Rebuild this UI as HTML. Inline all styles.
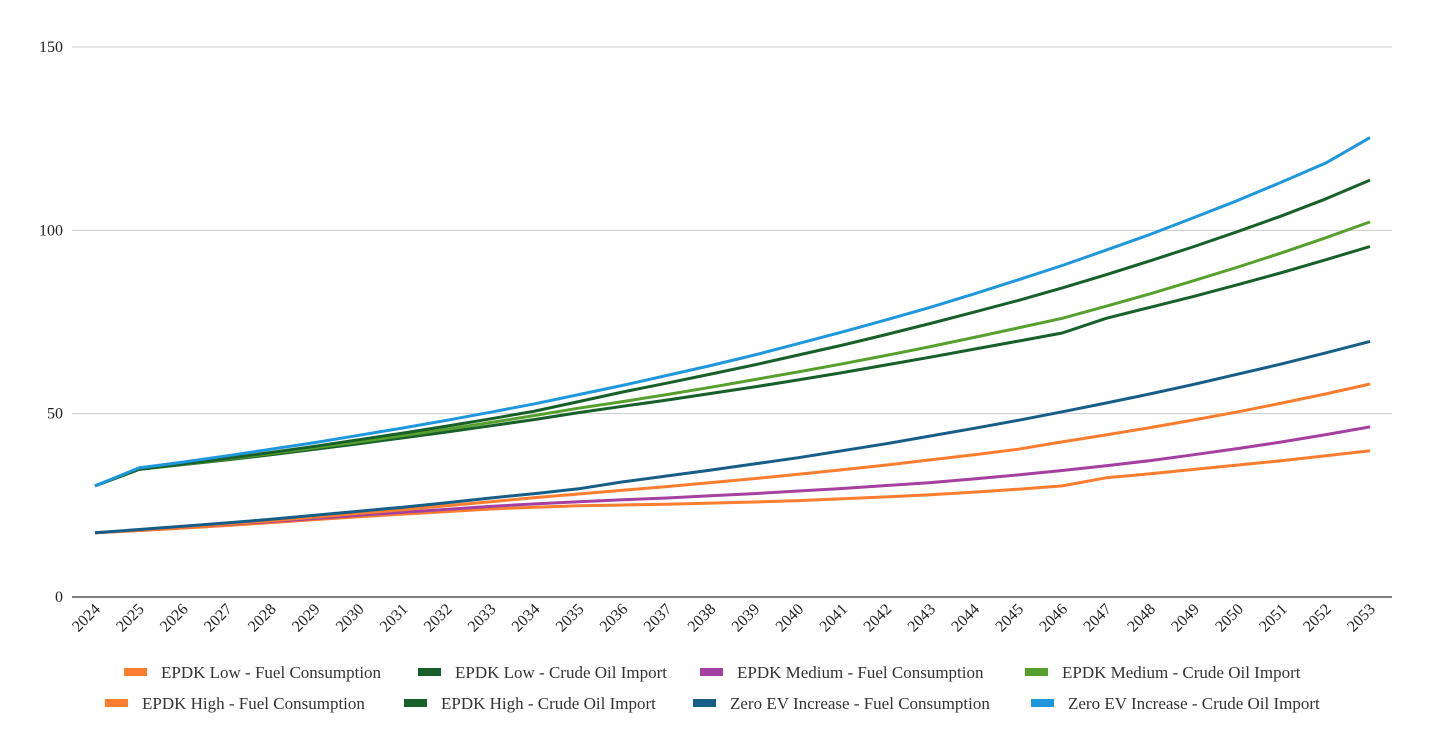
<!DOCTYPE html>
<html><head><meta charset="utf-8"><style>
html,body{margin:0;padding:0;background:#fff;}
svg{display:block;font-family:"Liberation Serif",serif;}
</style></head><body>
<svg id="chart" width="1429" height="753" xmlns="http://www.w3.org/2000/svg">
<g id="grid"></g>
<g id="yax"></g>
<g id="xax"></g>
<g id="lines"></g>
<g id="legend"></g>
</svg>
<script>
const years = [2024,2025,2026,2027,2028,2029,2030,2031,2032,2033,2034,2035,2036,2037,2038,2039,2040,2041,2042,2043,2044,2045,2046,2047,2048,2049,2050,2051,2052,2053];
const yTicks = [0,50,100,150];
const lowFuel = [17.5,18.1,18.8,19.5,20.3,21.1,21.9,22.6,23.3,24.0,24.5,24.9,25.1,25.3,25.6,25.9,26.3,26.8,27.3,27.9,28.6,29.4,30.3,32.5,33.6,34.8,36.0,37.2,38.5,39.9];
const lowCrude = [30.3,34.8,36.1,37.4,38.8,40.3,41.8,43.4,45.0,46.7,48.4,50.3,52.0,53.7,55.5,57.3,59.2,61.2,63.3,65.4,67.6,69.8,72.0,76.0,79.0,82.0,85.2,88.5,92.0,95.6];
const medFuel = [17.5,18.2,19.0,19.8,20.6,21.4,22.3,23.1,23.9,24.7,25.4,26.0,26.5,27.0,27.6,28.2,28.9,29.6,30.4,31.2,32.2,33.3,34.5,35.8,37.2,38.8,40.5,42.3,44.3,46.4];
const medCrude = [30.3,34.8,36.2,37.6,39.1,40.7,42.3,44.0,45.8,47.6,49.5,51.5,53.3,55.2,57.2,59.3,61.4,63.6,65.9,68.3,70.8,73.4,76.0,79.3,82.7,86.3,90.0,93.9,98.0,102.3];
const highFuel = [17.5,18.2,19.0,19.9,20.8,21.8,22.8,23.8,24.9,26.0,27.1,28.1,29.1,30.1,31.2,32.3,33.5,34.7,36.0,37.4,38.8,40.3,42.3,44.2,46.2,48.3,50.5,52.9,55.4,58.1];
const highCrude = [30.3,34.8,36.3,37.8,39.4,41.1,42.9,44.7,46.6,48.6,50.7,53.3,55.9,58.3,60.8,63.3,66.0,68.7,71.6,74.6,77.7,80.9,84.3,87.9,91.7,95.6,99.7,104.0,108.6,113.7];
const zeroFuel = [17.5,18.4,19.3,20.2,21.2,22.3,23.4,24.5,25.7,27.0,28.2,29.5,31.4,33.0,34.6,36.3,38.0,39.9,41.8,43.9,46.0,48.2,50.5,52.9,55.4,58.0,60.8,63.6,66.6,69.7];
const zeroCrude = [30.3,35.2,36.8,38.5,40.3,42.1,44.1,46.1,48.2,50.4,52.7,55.2,57.7,60.4,63.1,66.0,69.1,72.3,75.6,79.0,82.7,86.5,90.4,94.6,98.9,103.5,108.2,113.2,118.4,125.3];
const seriesNames = ["EPDK Low - Fuel Consumption","EPDK Low - Crude Oil Import","EPDK Medium - Fuel Consumption","EPDK Medium - Crude Oil Import","EPDK High - Fuel Consumption","EPDK High - Crude Oil Import","Zero EV Increase - Fuel Consumption","Zero EV Increase - Crude Oil Import"];

const series = [lowFuel,lowCrude,medFuel,medCrude,highFuel,highCrude,zeroFuel,zeroCrude];
const colors = ["#fb7d2f","#17602a","#a540a0","#58a02e","#fb7d2f","#17602a","#165e88","#1e97dd"];
const NS="http://www.w3.org/2000/svg";
const x0=95,x1=1370,yb=597,yt=47;
const xs=i=>x0+(x1-x0)*i/(years.length-1);
const ys=v=>yb-(yb-yt)*v/150;
function mk(tag,attrs,parent){const e=document.createElementNS(NS,tag);for(const k in attrs)e.setAttribute(k,attrs[k]);parent.appendChild(e);return e;}
const grid=document.getElementById('grid'),yax=document.getElementById('yax'),xax=document.getElementById('xax'),lines=document.getElementById('lines'),legend=document.getElementById('legend');
yTicks.forEach(t=>{
  const l=mk('line',{x1:72,x2:1392,y1:ys(t),y2:ys(t),stroke:t===0?'#333':'#ccc','stroke-width':t===0?1.3:1},grid);
  
  
  const tx=mk('text',{x:63,y:ys(t)+5,'text-anchor':'end','font-size':16,fill:'#222'},yax);
  tx.textContent=t;
  
  
});
years.forEach((yr,i)=>{
  const x=xs(i)+6,y=610;
  const tx=mk('text',{x:x,y:y,'text-anchor':'end','font-size':16,fill:'#222',transform:`rotate(-45 ${x} ${y})`},xax);
  tx.textContent=yr;
  
  
});
series.forEach((s,k)=>{
  const d=s.map((v,i)=>(i?'L':'M')+xs(i).toFixed(1)+','+ys(v).toFixed(1)).join('');
  const p=mk('path',{d:d,fill:'none',stroke:colors[k],'stroke-width':3,'stroke-linejoin':'round'},lines);
  
  
});
const legPos=[[124,672],[418,672],[700,672],[1025,672],[105,703],[404,703],[693,703],[1031,703]];
seriesNames.forEach((n,k)=>{
  const g=mk('g',{},legend);
  
  
  const [lx,ly]=legPos[k];
  mk('rect',{x:lx,y:ly-4,width:23,height:8,fill:colors[k]},g);
  const t=mk('text',{x:lx+37,y:ly+6,'font-size':17,fill:'#333'},g);
  t.textContent=n;
});
</script>
</body></html>
